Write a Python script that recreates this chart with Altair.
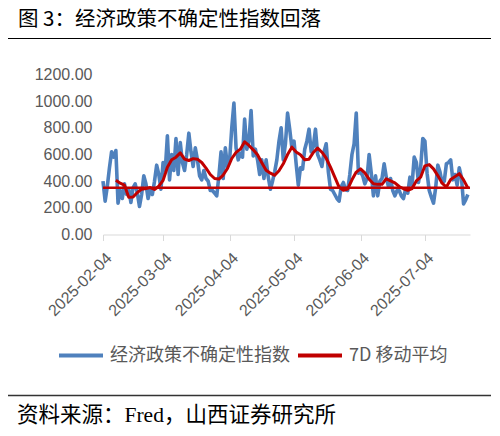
import altair as alt
import pandas as pd

title_text = "图 3：经济政策不确定性指数回落"
source_text = "资料来源：Fred，山西证券研究所"
series_names = ["经济政策不确定性指数", "7D 移动平均"]

start_date = "2025-02-04"
end_date = "2025-07-25"
epu_values = [
    400, 250, 360, 500, 620, 580, 630, 235, 330, 270, 380, 300, 340, 240, 350, 380,
    310, 210, 300, 440, 380, 270, 340, 300, 400, 520, 450, 340, 540, 480, 740,
    410, 600, 480, 720, 450, 690, 540, 480, 600, 760, 620, 510, 650, 560, 440, 410,
    480, 420, 400, 330, 330, 310, 290, 440, 620, 420, 650, 510, 560,
    800, 985, 650, 560, 610, 580, 865, 640, 700, 930, 590, 640, 560, 450, 560, 420,
    560, 430, 340, 400, 470, 560, 700, 800, 560, 680, 910, 790, 650, 700, 530,
    370, 500, 490, 640, 700, 790, 620, 660, 790, 600,
    560, 510, 620, 680, 470, 340, 330, 300, 270, 250,
    360, 390, 335, 330, 450, 600, 680, 910, 460, 470,
    440, 380, 420, 600, 460, 290, 440, 290, 400, 420,
    530, 430, 360, 420, 330, 290, 330, 330, 290, 270,
    340, 310, 430, 370, 580, 540, 390, 500, 720, 700,
    460, 330, 280, 235, 350, 520, 470, 390, 400, 530,
    540, 560, 410, 450, 370, 500, 430, 230, 260, 300,
]

ma_start = "2025-02-10"
ma_values = [
    406, 385, 370, 280, 281, 315, 340, 344, 352, 338,
    362, 406, 505, 560, 580, 612, 565, 555, 569, 565,
    540, 498, 450, 420, 416, 446, 495, 570, 616, 640,
    695, 668, 635, 598, 538, 482, 460, 444, 478, 530,
    600, 655, 618, 598, 560, 565, 615, 648, 617, 572,
    505, 430, 355, 331, 340, 410, 468, 492, 462, 415,
    381, 376, 376, 418, 403, 388, 360, 343, 331, 345,
    402, 430, 515, 524, 492, 442, 385, 356, 412, 434,
    456, 410, 349,
]

long_run_avg = 350
y_ticks = [0, 200, 400, 600, 800, 1000, 1200]
x_tick_months = [2, 3, 4, 5, 6, 7]

epu_df = pd.DataFrame({
    "date": pd.date_range(start_date, periods=len(epu_values), freq="D").strftime("%Y-%m-%d"),
    "value": epu_values,
    "series": series_names[0],
})
ma_df = pd.DataFrame({
    "date": pd.date_range(ma_start, periods=len(ma_values), freq="2D").strftime("%Y-%m-%d"),
    "value": ma_values,
    "series": series_names[1],
})
avg_df = pd.DataFrame({"start": [start_date], "end": [end_date], "value": [long_run_avg]})

GRAY = "#595959"
x_scale = alt.Scale(
    type="utc",
    domain=[alt.DateTime(year=2025, month=2, date=4, utc=True),
            alt.DateTime(year=2025, month=7, date=25, utc=True)],
    nice=False,
)
y_scale = alt.Scale(domain=[0, 1200], nice=False)

x_axis = alt.Axis(
    values=[alt.DateTime(year=2025, month=m, date=4, utc=True) for m in x_tick_months],
    format="%Y-%m-%d", labelAngle=-45, title=None, grid=False, labelOverlap=False,
    domainColor="#d9d9d9", domainWidth=1.2, tickColor="#d9d9d9", tickSize=6,
    labelColor=GRAY, labelFontSize=16, labelFont="Liberation Sans", labelPadding=9,
)
y_axis = alt.Axis(
    values=y_ticks, format=".2f", title=None, grid=False, domain=False, ticks=False,
    labelOverlap=False, tickCount=7,
    labelColor=GRAY, labelFontSize=16, labelFont="Liberation Sans", labelPadding=11,
)

X = alt.X("date:T", scale=x_scale, axis=x_axis)
Y = alt.Y("value:Q", scale=y_scale, axis=y_axis)

color_enc = alt.Color(
    "series:N",
    scale=alt.Scale(domain=series_names, range=["#4F81BD", "#C00000"]),
    legend=alt.Legend(
        orient="none", legendX=-46, legendY=257, direction="horizontal", title=None,
        symbolType="stroke", symbolSize=1936, symbolStrokeWidth=4,
        labelFontSize=18, labelFont="Noto Sans CJK SC", labelColor=GRAY,
        labelOffset=5, columnPadding=0, padding=0, labelLimit=400,
    ),
)

blue = alt.Chart(epu_df).mark_line(strokeWidth=3.6, strokeJoin="round").encode(
    x=X, y=Y, color=color_enc,
)
red = alt.Chart(ma_df).mark_line(strokeWidth=3, strokeJoin="round").encode(
    x=X, y=Y, color=color_enc,
)
avg_rule = alt.Chart(avg_df).mark_rule(color="#C00000", strokeWidth=2.5).encode(
    x=alt.X("start:T", scale=x_scale, axis=x_axis), x2="end:T",
    y=alt.Y("value:Q", scale=y_scale, axis=y_axis),
)

deco = pd.DataFrame({"k": [0]})
top_line = alt.Chart(deco).mark_rule(color="black", strokeWidth=1).encode(
    x=alt.value(-97), x2=alt.value(388), y=alt.value(-36)
)
bottom_line = alt.Chart(deco).mark_rule(color="#333333", strokeWidth=1.5).encode(
    x=alt.value(-97), x2=alt.value(388), y=alt.value(321)
)
title_mark = alt.Chart(pd.DataFrame({"t": [title_text]})).mark_text(
    align="left", baseline="middle", fontSize=20.5, font="Noto Sans CJK SC", color="black"
).encode(x=alt.value(-85), y=alt.value(-54.5), text="t:N")
source_mark = alt.Chart(pd.DataFrame({"t": [source_text]})).mark_text(
    align="left", baseline="middle", fontSize=21.5, font="Liberation Serif, Noto Sans CJK SC",
    color="black"
).encode(x=alt.value(-86), y=alt.value(341), text="t:N")

chart = alt.layer(blue, red, avg_rule, top_line, bottom_line, title_mark, source_mark).properties(
    width=367, height=160,
    padding={"left": 95, "top": 66.5, "right": 22, "bottom": 193},
    autosize=alt.AutoSizeParams(type="none"),
).configure_view(stroke=None).configure_axis(labelOverlap=False)

chart.save("out.html", embed_options={"renderer": "svg", "actions": False})
